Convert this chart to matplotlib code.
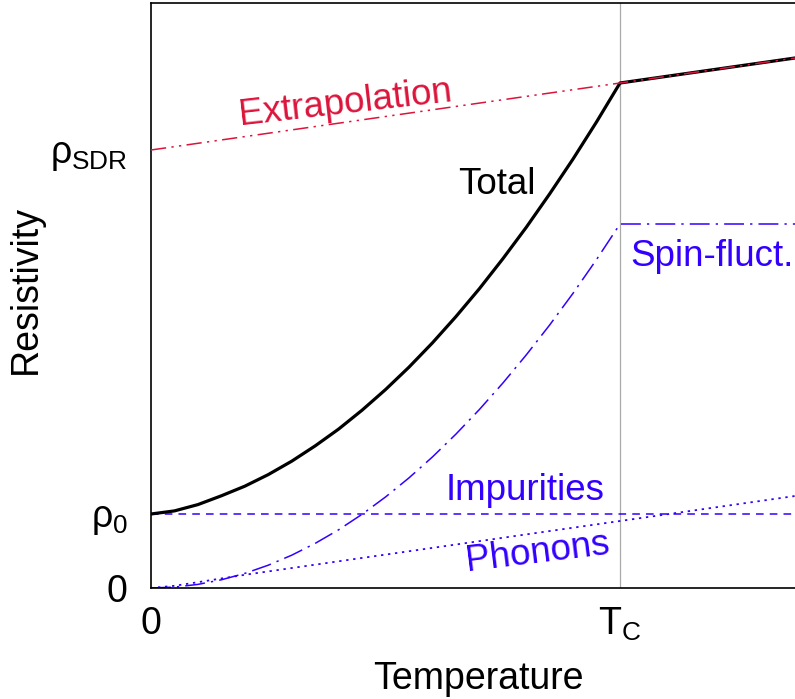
import matplotlib
matplotlib.use("Agg")
import matplotlib.pyplot as plt

plt.rcParams['font.family'] = ['Liberation Sans', 'DejaVu Sans']
plt.rcParams['mathtext.fontset'] = 'custom'
plt.rcParams['mathtext.rm'] = 'Liberation Sans'
plt.rcParams['mathtext.it'] = 'Liberation Sans'
plt.rcParams['mathtext.bf'] = 'Liberation Sans:bold'

# ---- data (temperature in units of T_C, resistivity in arbitrary units) ----
T_grid = [0.0, 0.05, 0.1, 0.15, 0.2, 0.25, 0.3, 0.35, 0.4, 0.45, 0.5,
          0.55, 0.6, 0.65, 0.7, 0.75, 0.8, 0.85, 0.9, 0.95, 1.0, 1.4]
total = [74, 77.1, 83.4, 92.2, 101.8, 113.4, 126.8, 142.1, 158.9, 177.8, 198.4,
         220.8, 245.1, 271.3, 299.2, 329.1, 360.6, 394.1, 429.1, 466.1, 505, 531.8]
spin_fluct = [0, 0.9, 3.6, 8.2, 14.6, 22.8, 32.8, 44.6, 58.2, 73.7, 91,
              110.1, 131, 153.8, 178.4, 204.8, 233, 263, 294.8, 328.5, 364, 364]

T_phon = [0.0, 0.05, 0.1, 0.2, 0.4, 0.6, 0.8, 1.0, 1.4]
phonons = [0, 2.2, 5.8, 13.2, 26.7, 40.1, 53.6, 67, 93.8]

T_imp = [0.0, 1.4]
impurities = [74, 74]

T_extra = [0.0, 1.4]
extrapolation = [438, 531.8]

Tc = 1.0
rho0 = 74
rho_sdr = 438

ytick_vals = [0, rho0, rho_sdr]
ytick_labels = ['0', r'$\rho_{\mathrm{0}}$', r'$\rho_{\mathrm{SDR}}$']
xtick_vals = [0, Tc]
xtick_labels = ['0', r'$\mathrm{T}_{\mathrm{C}}$']

RED = '#dc143c'
BLUE = '#3300ff'

fig = plt.figure(figsize=(7.95, 6.99), dpi=100)
ax = fig.add_axes([151/795, 111/699, (805-151)/795, (588-3)/699])

ax.axvline(Tc, color='#aaaaaa', lw=0.9, zorder=1)
ax.plot(T_imp, impurities, color=BLUE, lw=1.1, linestyle=(0, (5, 4)), zorder=2)
ax.plot(T_phon, phonons, color=BLUE, lw=1.3, linestyle=(0, (1.3, 2.6)), zorder=2)
ax.plot(T_grid, spin_fluct, color=BLUE, lw=1.1, linestyle=(0, (13, 4, 1.5, 4)), zorder=2)
ax.plot(T_grid, total, color='black', lw=2.3, zorder=3)
ax.plot(T_extra, extrapolation, color=RED, lw=1.1,
        linestyle=(0, (10, 3.5, 1.5, 3.5, 1.5, 3.5)), zorder=4)

fs = 26.5
ax.text(0.414, 485, 'Extrapolation', color=RED, fontsize=fs, rotation=6.5,
        ha='center', va='center', rotation_mode='anchor')
ax.text(0.738, 403, 'Total', color='black', fontsize=fs, ha='center', va='center')
ax.text(1.196, 332, 'Spin-fluct.', color=BLUE, fontsize=fs, ha='center', va='center')
ax.text(0.797, 98, 'Impurities', color=BLUE, fontsize=fs, ha='center', va='center')
ax.text(0.825, 35, 'Phonons', color=BLUE, fontsize=fs, rotation=7,
        ha='center', va='center', rotation_mode='anchor')

lfs = 27
ax.set_xlim(0, (805-151)/469)
ax.set_ylim(0, 585)
ax.set_xticks(xtick_vals)
ax.set_xticklabels(xtick_labels, fontsize=lfs)
ax.set_yticks(ytick_vals)
ax.set_yticklabels(ytick_labels, fontsize=lfs)
ax.tick_params(length=0)
ax.tick_params(axis='x', pad=13)
ax.tick_params(axis='y', pad=17)
ax.spines['right'].set_visible(False)
for s in ['left', 'bottom', 'top']:
    ax.spines[s].set_linewidth(1.2)

ax.set_xlabel('Temperature', fontsize=lfs, labelpad=13)
ax.set_ylabel('Resistivity', fontsize=lfs)
ax.yaxis.set_label_coords((44 - 151) / 654, 0.51)

fig.savefig('out.png', dpi=100)
